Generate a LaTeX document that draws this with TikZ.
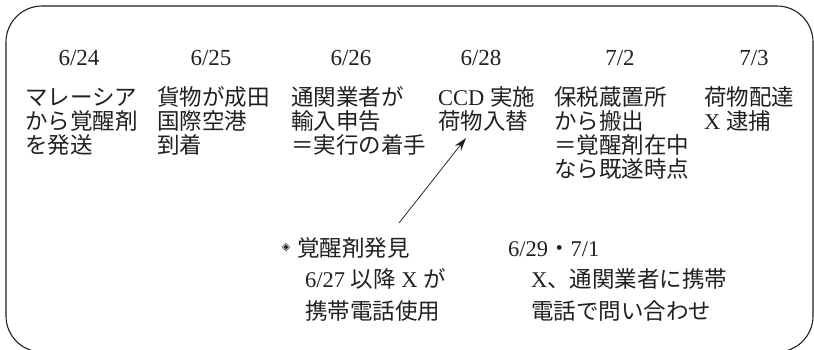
\documentclass[tikz,border=0pt]{standalone}
\usepackage{fontspec}
\setmainfont{Liberation Serif}
\newfontfamily\jpfont{Noto Sans CJK JP}
\newfontfamily\symfont{DejaVu Sans}
\newcommand\jp[1]{{\jpfont #1}}
\newcommand\stacklines[1]{\vtop{\halign{##\hfil\cr #1\crcr}}}
\usetikzlibrary{arrows.meta}
\definecolor{ink}{HTML}{231F20}
\tikzset{
  frame/.style={draw=ink, line width=1.1pt, rounded corners=36pt},
  datelbl/.style={anchor=base, inner sep=0pt, text=ink, font=\fontsize{23}{24}\selectfont},
  colbox/.style={anchor=base west, inner sep=0pt, text=ink, font=\fontsize{22.5}{24}\selectfont},
  lowbox/.style={anchor=base west, inner sep=0pt, text=ink, font=\fontsize{22.5}{31.5}\selectfont},
  bulletmark/.style={inner sep=0pt, text=ink, font=\symfont\fontsize{11}{11}\selectfont},
  conn/.style={draw=ink, line width=0.75pt, -{Stealth[length=13pt,width=8pt]}}
}
\begin{document}
\begin{tikzpicture}[x=1pt,y=-1pt]
\useasboundingbox (0,0) rectangle (814,349);
\draw[frame] (6,6) rectangle (813,352);
% dates
\node[datelbl] (d1) at (79,65) {6/24};
\node[datelbl] (d2) at (211,65) {6/25};
\node[datelbl] (d3) at (351,65) {6/26};
\node[datelbl] (d4) at (481,65) {6/28};
\node[datelbl] (d5) at (620,65) {7/2};
\node[datelbl] (d6) at (754,65) {7/3};
% columns
\node[colbox] (c1) at (25,105) {\stacklines{\jp{マレーシア}\cr\jp{から覚醒剤}\cr\jp{を発送}}};
\node[colbox] (c2) at (157,105) {\stacklines{\jp{貨物が成田}\cr\jp{国際空港}\cr\jp{到着}}};
\node[colbox] (c3) at (291,105) {\stacklines{\jp{通関業者が}\cr\jp{輸入申告}\cr\jp{＝実行の着手}}};
\node[colbox] (c4) at (438,105) {\stacklines{CCD \jp{実施}\cr\jp{荷物入替}}};
\node[colbox] (c5) at (554,105) {\stacklines{\jp{保税蔵置所}\cr\jp{から搬出}\cr\jp{＝覚醒剤在中}\cr\jp{なら既遂時点}}};
\node[colbox] (c6) at (704,105) {\stacklines{\jp{荷物配達}\cr X \jp{逮捕}}};
% lower notes
\node[bulletmark] (b1) at (286,248) {◈};
\node[lowbox] (n1) at (297,256) {\jp{覚醒剤発見}};
\node[lowbox] (n2) at (305,287.5) {\stacklines{6/27 \jp{以降} X \jp{が}\cr\jp{携帯電話使用}}};
\node[lowbox] (n3) at (508,256) {6/29\jp{・}7/1};
\node[lowbox] (n4) at (531,287.5) {\stacklines{X\jp{、通関業者に携帯}\cr\jp{電話で問い合わせ}}};
% arrow
\coordinate (atail) at (399,223);
\coordinate (ahead) at (466,138);
\draw[conn] (atail) -- (ahead);
\end{tikzpicture}
\end{document}
